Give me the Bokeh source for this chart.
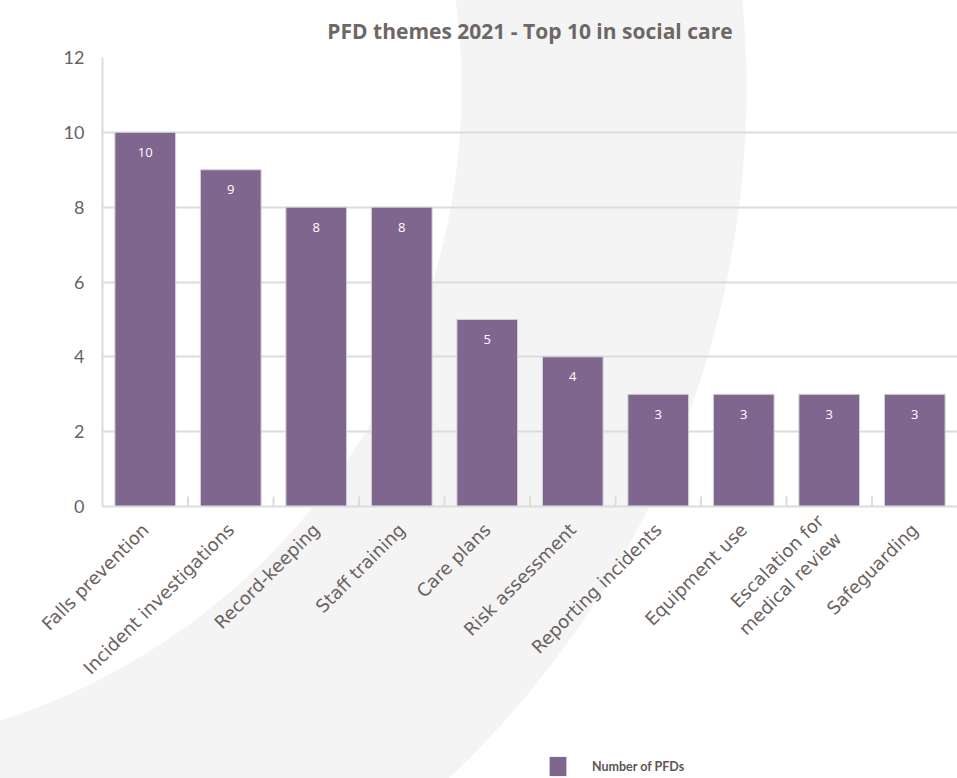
import numpy as np
from bokeh.plotting import figure
from bokeh.layouts import column
from bokeh.models import ColumnDataSource, FactorRange, Range1d, LabelSet, Legend, LegendItem, FixedTicker
from bokeh.core.properties import value
from bokeh.transform import dodge
from bokeh.embed import file_html
from bokeh.resources import INLINE

# ---- data ----
categories = ["Falls prevention", "Incident investigations", "Record-keeping", "Staff training",
              "Care plans", "Risk assessment", "Reporting incidents", "Equipment use",
              "Escalation for\nmedical review", "Safeguarding"]
counts = [10, 9, 8, 8, 5, 4, 3, 3, 3, 3]
y_ticks = [0, 2, 4, 6, 8, 10, 12]
title_text = "PFD themes 2021 - Top 10 in social care"
series_name = "Number of PFDs"

BAR = "#7f668f"
TXT = "#6a625e"
GRID = "#dcdcdc"


def ring(cy):
    # decorative light-grey ring behind the chart
    return {"background": f"radial-gradient(circle at -203px {cy}px, rgba(244,244,245,0) 664px, "
                          f"#f4f4f5 665px, #f4f4f5 949px, rgba(244,244,245,0) 950px)"}


src = ColumnDataSource(dict(cat=categories, count=counts, label=[str(c) for c in counts]))
sep = ColumnDataSource(dict(cat=categories[:-1], zero=[0] * (len(categories) - 1)))

p = figure(width=957, height=752,
           x_range=FactorRange(factors=categories, range_padding=0),
           y_range=Range1d(0, 12), output_backend="svg", toolbar_location=None,
           min_border_left=102, min_border_right=0, min_border_top=57, min_border_bottom=246)

p.title.text = title_text
p.title.align = "center"
p.title.text_font = "Open Sans"
p.title.text_font_style = "bold"
p.title.text_font_size = "21px"
p.title.text_color = "#6e6764"
p.title.standoff = 26

p.border_fill_color = None
p.background_fill_color = None
p.outline_line_color = None
p.styles = ring(88)

bars = p.vbar(x="cat", top="count", width=0.71, source=src, fill_color=BAR,
              line_color="#d8d2dc", line_width=1)

# separator ticks between categories (pointing up from the axis)
p.scatter(x=dodge("cat", 0.5, range=p.x_range), y="zero", source=sep, marker="dash",
          angle=np.pi / 2, size=20, line_color=GRID, line_width=2)

labels = LabelSet(x="cat", y="count", text="label", source=src, y_offset=-20,
                  text_align="center", text_baseline="middle", text_color="white",
                  text_font=value("Open Sans"), text_font_size="13px")
p.add_layout(labels)

p.yaxis.ticker = FixedTicker(ticks=y_ticks)
p.yaxis.axis_line_color = GRID
p.yaxis.axis_line_width = 2
p.yaxis.major_tick_line_color = None
p.yaxis.minor_tick_line_color = None
p.yaxis.major_label_text_font = "Lato"
p.yaxis.major_label_text_font_size = "18px"
p.yaxis.major_label_text_color = TXT
p.yaxis.major_label_standoff = 12

p.xaxis.axis_line_color = GRID
p.xaxis.axis_line_width = 2
p.xaxis.major_tick_line_color = None
p.xaxis.major_label_orientation = np.pi / 4
p.xaxis.major_label_text_font = "DejaVu Sans"
p.xaxis.major_label_text_font_size = "18px"
p.xaxis.major_label_text_color = TXT
p.xaxis.major_label_standoff = 14

p.xgrid.grid_line_color = None
p.ygrid.grid_line_color = GRID
p.ygrid.grid_line_width = 2
p.ygrid.ticker = FixedTicker(ticks=y_ticks)

# ---- legend strip below the chart ----
lg = figure(width=957, height=26, x_range=FactorRange(factors=categories),
            y_range=Range1d(20, 21), output_backend="svg", toolbar_location=None,
            x_axis_type=None, y_axis_type=None, min_border=0)
lg.border_fill_color = None
lg.background_fill_color = None
lg.outline_line_color = None
lg.grid.grid_line_color = None
lg.styles = ring(88 - 752)
lg_bars = lg.vbar(x="cat", top="count", width=0.71, source=src, fill_color=BAR, line_color=None)

legend = Legend(items=[LegendItem(label=series_name, renderers=[lg_bars])], location=(445, 0),
                orientation="horizontal", border_line_color=None, background_fill_alpha=0,
                glyph_width=21, glyph_height=24, label_standoff=24,
                label_text_font="Lato", label_text_font_style="bold",
                label_text_font_size="12.5px", label_text_color="#5e5652",
                margin=0, padding=0)
lg.add_layout(legend, "center")

layout = column(p, lg, spacing=0)
open("out.html", "w").write(file_html(layout, INLINE))
